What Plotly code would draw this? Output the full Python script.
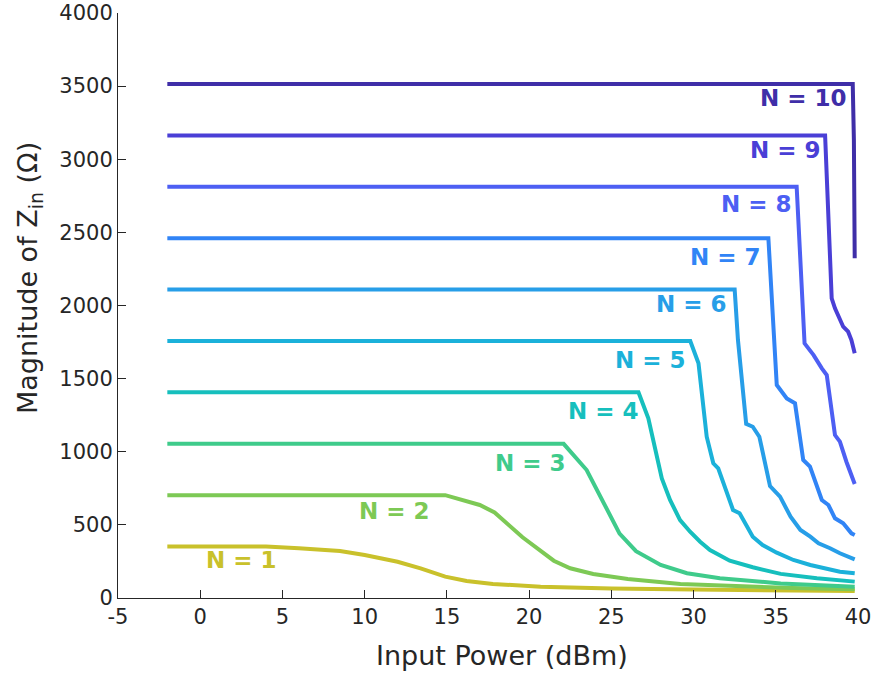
import plotly.graph_objects as go

# ---- data ----
N_labels = ["N = 1", "N = 2", "N = 3", "N = 4", "N = 5", "N = 6", "N = 7", "N = 8", "N = 9", "N = 10"]

n1_x = [-2, 4, 6, 8.5, 10, 12, 13.4, 14.9, 16.2, 17.8, 20.7, 25, 30, 35, 39.8]
n1_y = [351.5, 351.5, 340, 321, 294, 248, 203, 146, 116, 96, 77, 65, 58, 52, 48]

n2_x = [-2, 14.9, 17.0, 17.9, 19.6, 21.5, 22.5, 23.9, 26, 29.2, 33, 36, 39.8]
n2_y = [703, 703, 636, 585, 415, 255, 203, 164, 130, 96, 80, 68, 60]

n3_x = [-2, 22.1, 23.5, 24.5, 25.5, 26.5, 28.0, 29.6, 31.6, 35.3, 39.8]
n3_y = [1054, 1054, 875, 658, 440, 320, 226, 169, 135, 100, 77]

n4_x = [-2, 26.65, 27.25, 28.07, 28.57, 29.18, 29.79, 30.4, 31.0, 32.2, 33.6, 35.3, 37.5, 39.8]
n4_y = [1406, 1406, 1229, 818, 670, 533, 453, 385, 328, 255, 210, 165, 135, 112]

n5_x = [-2, 29.8, 30.3, 30.8, 31.2, 31.5, 32.4, 32.8, 33.6, 34.2, 35.06, 36.07, 37.1, 38.1, 38.9, 39.8]
n5_y = [1757, 1757, 1605, 1103, 921, 887, 602, 579, 419, 362, 310, 260, 226, 203, 180, 169]

n6_x = [-2, 32.5, 32.7, 33.2, 33.6, 34.0, 34.65, 35.26, 35.9, 36.5, 37.1, 37.6, 38.3, 38.9, 39.8]
n6_y = [2109, 2109, 1764, 1190, 1171, 1103, 765, 693, 556, 465, 419, 374, 340, 306, 264]

n7_x = [-2, 34.55, 35.06, 35.67, 36.17, 36.67, 37.08, 37.8, 38.2, 38.6, 39.1, 39.6, 39.8]
n7_y = [2460, 2460, 1456, 1365, 1331, 944, 898, 670, 636, 545, 511, 442, 431]

n8_x = [-2, 36.27, 36.75, 37.3, 37.8, 38.1, 38.6, 38.9, 39.3, 39.8]
n8_y = [2812, 2812, 1741, 1661, 1570, 1525, 1114, 1069, 930, 779]

n9_x = [-2, 38.0, 38.4, 38.6, 39.1, 39.4, 39.6, 39.8]
n9_y = [3163, 3163, 2049, 1981, 1855, 1821, 1764, 1673]

n10_x = [-2, 39.68, 39.75, 39.8]
n10_y = [3515, 3515, 3132, 2323]

# label anchor positions (data coords)
label_x = [2.5, 11.8, 20.1, 24.5, 27.4, 29.9, 31.97, 33.8, 35.6, 36.7]
label_y = [260, 595, 923, 1281, 1627, 2010, 2334, 2692, 3063, 3419]

colors = ["#c9c12b", "#7dc955", "#3fcb8b", "#16bfbd", "#1bb1da", "#279ee8",
          "#3184f6", "#4d5ff3", "#4a3fd6", "#3f2ea8"]

xs = [n1_x, n2_x, n3_x, n4_x, n5_x, n6_x, n7_x, n8_x, n9_x, n10_x]
ys = [n1_y, n2_y, n3_y, n4_y, n5_y, n6_y, n7_y, n8_y, n9_y, n10_y]

x_ticks = [-5, 0, 5, 10, 15, 20, 25, 30, 35, 40]
y_ticks = [0, 500, 1000, 1500, 2000, 2500, 3000, 3500, 4000]

x_title = "Input Power (dBm)"
y_title = "Magnitude of Z<sub>in</sub> (Ω)"

W, H = 877, 675
ML, MR, MT, MB = 118, 19, 13, 77

fig = go.Figure()
for x, y, c, name in zip(xs, ys, colors, N_labels):
    fig.add_trace(go.Scatter(x=x, y=y, mode="lines", name=name,
                             line=dict(color=c, width=4), showlegend=False))

for lx, ly, c, name in zip(label_x, label_y, colors, N_labels):
    fig.add_annotation(x=lx, y=ly, text=name, showarrow=False,
                       font=dict(family="DejaVu Sans", size=23, color=c, weight="bold"),
                       xanchor="center", yanchor="middle")

title_font = dict(family="DejaVu Sans", size=27, color="#262626")
pw, ph = W - ML - MR, H - MT - MB
# x title centred near x=502px, y=655px ; y title centred near x=30px, y=278px
fig.add_annotation(xref="paper", yref="paper", x=(502 - ML) / pw, y=(H - MB - 655) / ph,
                   text=x_title, showarrow=False, font=title_font,
                   xanchor="center", yanchor="middle")
fig.add_annotation(xref="paper", yref="paper", x=(30 - ML) / pw, y=(H - MB - 278) / ph,
                   text=y_title, showarrow=False, font=title_font, textangle=-90,
                   xanchor="center", yanchor="middle")

axis_common = dict(showgrid=False, zeroline=False, showline=True, linecolor="#262626",
                   linewidth=1, ticks="inside", ticklen=8, tickcolor="#262626",
                   tickfont=dict(family="DejaVu Sans", size=21, color="#262626"),
                   mirror=False, automargin=False)

fig.update_layout(
    width=W, height=H,
    margin=dict(l=ML, r=MR, t=MT, b=MB, autoexpand=False),
    plot_bgcolor="white", paper_bgcolor="white",
    xaxis=dict(range=[-5, 40], tickvals=x_ticks, ticktext=[str(v) for v in x_ticks],
               **axis_common),
    yaxis=dict(range=[0, 4000], tickvals=y_ticks, ticktext=[str(v) for v in y_ticks],
               **axis_common),
)

fig.write_html("out.html")
